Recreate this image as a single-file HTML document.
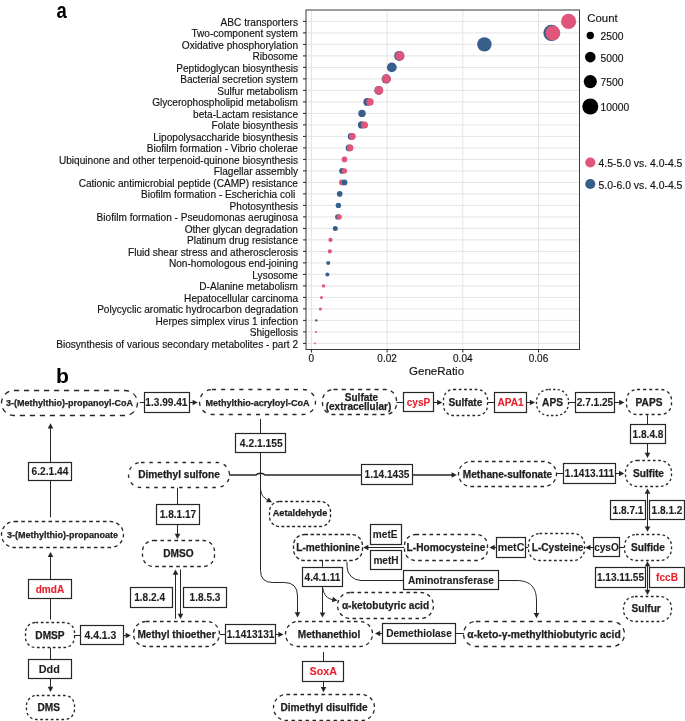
<!DOCTYPE html><html><head><meta charset="utf-8"><style>html,body{margin:0;padding:0;background:#fff;}svg{display:block;will-change:transform;}text{font-family:"Liberation Sans",sans-serif;}text.b{stroke-width:0.25px;}text.e{stroke-width:0.1px;}text.r{stroke-width:0.15px;}</style></head><body>
<svg width="685" height="721" viewBox="0 0 685 721">
<rect width="685" height="721" fill="#fff"/>
<text x="56.6" y="18.1" font-size="22" font-weight="bold" fill="#000" transform="translate(56.6 0) scale(0.84 1) translate(-56.6 0)">a</text>
<line x1="306.0" y1="21.40" x2="579.5" y2="21.40" stroke="#E4E4E4" stroke-width="1"/>
<line x1="306.0" y1="32.90" x2="579.5" y2="32.90" stroke="#E4E4E4" stroke-width="1"/>
<line x1="306.0" y1="44.40" x2="579.5" y2="44.40" stroke="#E4E4E4" stroke-width="1"/>
<line x1="306.0" y1="55.90" x2="579.5" y2="55.90" stroke="#E4E4E4" stroke-width="1"/>
<line x1="306.0" y1="67.40" x2="579.5" y2="67.40" stroke="#E4E4E4" stroke-width="1"/>
<line x1="306.0" y1="78.90" x2="579.5" y2="78.90" stroke="#E4E4E4" stroke-width="1"/>
<line x1="306.0" y1="90.40" x2="579.5" y2="90.40" stroke="#E4E4E4" stroke-width="1"/>
<line x1="306.0" y1="101.90" x2="579.5" y2="101.90" stroke="#E4E4E4" stroke-width="1"/>
<line x1="306.0" y1="113.40" x2="579.5" y2="113.40" stroke="#E4E4E4" stroke-width="1"/>
<line x1="306.0" y1="124.90" x2="579.5" y2="124.90" stroke="#E4E4E4" stroke-width="1"/>
<line x1="306.0" y1="136.40" x2="579.5" y2="136.40" stroke="#E4E4E4" stroke-width="1"/>
<line x1="306.0" y1="147.90" x2="579.5" y2="147.90" stroke="#E4E4E4" stroke-width="1"/>
<line x1="306.0" y1="159.40" x2="579.5" y2="159.40" stroke="#E4E4E4" stroke-width="1"/>
<line x1="306.0" y1="170.90" x2="579.5" y2="170.90" stroke="#E4E4E4" stroke-width="1"/>
<line x1="306.0" y1="182.40" x2="579.5" y2="182.40" stroke="#E4E4E4" stroke-width="1"/>
<line x1="306.0" y1="193.90" x2="579.5" y2="193.90" stroke="#E4E4E4" stroke-width="1"/>
<line x1="306.0" y1="205.40" x2="579.5" y2="205.40" stroke="#E4E4E4" stroke-width="1"/>
<line x1="306.0" y1="216.90" x2="579.5" y2="216.90" stroke="#E4E4E4" stroke-width="1"/>
<line x1="306.0" y1="228.40" x2="579.5" y2="228.40" stroke="#E4E4E4" stroke-width="1"/>
<line x1="306.0" y1="239.90" x2="579.5" y2="239.90" stroke="#E4E4E4" stroke-width="1"/>
<line x1="306.0" y1="251.40" x2="579.5" y2="251.40" stroke="#E4E4E4" stroke-width="1"/>
<line x1="306.0" y1="262.90" x2="579.5" y2="262.90" stroke="#E4E4E4" stroke-width="1"/>
<line x1="306.0" y1="274.40" x2="579.5" y2="274.40" stroke="#E4E4E4" stroke-width="1"/>
<line x1="306.0" y1="285.90" x2="579.5" y2="285.90" stroke="#E4E4E4" stroke-width="1"/>
<line x1="306.0" y1="297.40" x2="579.5" y2="297.40" stroke="#E4E4E4" stroke-width="1"/>
<line x1="306.0" y1="308.90" x2="579.5" y2="308.90" stroke="#E4E4E4" stroke-width="1"/>
<line x1="306.0" y1="320.40" x2="579.5" y2="320.40" stroke="#E4E4E4" stroke-width="1"/>
<line x1="306.0" y1="331.90" x2="579.5" y2="331.90" stroke="#E4E4E4" stroke-width="1"/>
<line x1="306.0" y1="343.40" x2="579.5" y2="343.40" stroke="#E4E4E4" stroke-width="1"/>
<line x1="311.40" y1="10.0" x2="311.40" y2="349.5" stroke="#E4E4E4" stroke-width="1"/>
<line x1="387.10" y1="10.0" x2="387.10" y2="349.5" stroke="#E4E4E4" stroke-width="1"/>
<line x1="462.80" y1="10.0" x2="462.80" y2="349.5" stroke="#E4E4E4" stroke-width="1"/>
<line x1="538.50" y1="10.0" x2="538.50" y2="349.5" stroke="#E4E4E4" stroke-width="1"/>
<circle cx="568.6" cy="21.40" r="7.6" fill="#E0567A"/>
<circle cx="551.5" cy="32.90" r="8.1" fill="#365F8C"/>
<circle cx="552.9" cy="32.90" r="7.4" fill="#E0567A"/>
<circle cx="484.4" cy="44.40" r="7.2" fill="#365F8C"/>
<circle cx="399.2" cy="55.90" r="5.0" fill="#365F8C"/>
<circle cx="400.0" cy="55.90" r="4.6" fill="#E0567A"/>
<circle cx="391.8" cy="67.40" r="4.9" fill="#365F8C"/>
<circle cx="386.2" cy="78.90" r="4.6" fill="#365F8C"/>
<circle cx="386.5" cy="78.90" r="4.4" fill="#E0567A"/>
<circle cx="378.7" cy="90.40" r="4.4" fill="#365F8C"/>
<circle cx="378.9" cy="90.40" r="4.3" fill="#E0567A"/>
<circle cx="367.3" cy="101.90" r="3.9" fill="#365F8C"/>
<circle cx="370.0" cy="101.90" r="3.7" fill="#E0567A"/>
<circle cx="362.0" cy="113.40" r="3.7" fill="#365F8C"/>
<circle cx="361.5" cy="124.90" r="3.6" fill="#365F8C"/>
<circle cx="364.5" cy="124.90" r="3.5" fill="#E0567A"/>
<circle cx="351.2" cy="136.40" r="3.4" fill="#365F8C"/>
<circle cx="352.4" cy="136.40" r="3.3" fill="#E0567A"/>
<circle cx="349.1" cy="147.90" r="3.4" fill="#365F8C"/>
<circle cx="350.1" cy="147.90" r="3.3" fill="#E0567A"/>
<circle cx="344.5" cy="159.40" r="2.8" fill="#E0567A"/>
<circle cx="342.0" cy="170.90" r="2.8" fill="#365F8C"/>
<circle cx="344.4" cy="170.90" r="2.7" fill="#E0567A"/>
<circle cx="341.8" cy="182.40" r="2.8" fill="#E0567A"/>
<circle cx="344.5" cy="182.40" r="2.9" fill="#365F8C"/>
<circle cx="339.7" cy="193.90" r="2.8" fill="#365F8C"/>
<circle cx="338.4" cy="205.40" r="2.7" fill="#365F8C"/>
<circle cx="337.7" cy="216.90" r="2.6" fill="#365F8C"/>
<circle cx="339.2" cy="216.90" r="2.6" fill="#E0567A"/>
<circle cx="335.3" cy="228.40" r="2.5" fill="#365F8C"/>
<circle cx="330.5" cy="239.90" r="2.1" fill="#E0567A"/>
<circle cx="329.9" cy="251.40" r="2.1" fill="#E0567A"/>
<circle cx="328.2" cy="262.90" r="2.0" fill="#365F8C"/>
<circle cx="327.4" cy="274.40" r="2.0" fill="#365F8C"/>
<circle cx="323.5" cy="285.90" r="1.7" fill="#E0567A"/>
<circle cx="321.5" cy="297.40" r="1.5" fill="#E0567A"/>
<circle cx="320.4" cy="308.90" r="1.5" fill="#E0567A"/>
<circle cx="316.3" cy="320.40" r="1.2" fill="#365F8C"/>
<circle cx="316.1" cy="331.90" r="1.0" fill="#E0567A"/>
<circle cx="314.9" cy="343.40" r="0.9" fill="#E0567A"/>
<rect x="306.0" y="10.0" width="273.5" height="339.5" fill="none" stroke="#3a3a3a" stroke-width="1"/>
<line x1="303" y1="21.40" x2="306.0" y2="21.40" stroke="#222" stroke-width="1"/>
<text x="298" y="25.50" font-size="10.1" text-anchor="end" fill="#111" stroke="#111" class="r">ABC transporters</text>
<line x1="303" y1="32.90" x2="306.0" y2="32.90" stroke="#222" stroke-width="1"/>
<text x="298" y="37.00" font-size="10.1" text-anchor="end" fill="#111" stroke="#111" class="r">Two-component system</text>
<line x1="303" y1="44.40" x2="306.0" y2="44.40" stroke="#222" stroke-width="1"/>
<text x="298" y="48.50" font-size="10.1" text-anchor="end" fill="#111" stroke="#111" class="r">Oxidative phosphorylation</text>
<line x1="303" y1="55.90" x2="306.0" y2="55.90" stroke="#222" stroke-width="1"/>
<text x="298" y="60.00" font-size="10.1" text-anchor="end" fill="#111" stroke="#111" class="r">Ribosome</text>
<line x1="303" y1="67.40" x2="306.0" y2="67.40" stroke="#222" stroke-width="1"/>
<text x="298" y="71.50" font-size="10.1" text-anchor="end" fill="#111" stroke="#111" class="r">Peptidoglycan biosynthesis</text>
<line x1="303" y1="78.90" x2="306.0" y2="78.90" stroke="#222" stroke-width="1"/>
<text x="298" y="83.00" font-size="10.1" text-anchor="end" fill="#111" stroke="#111" class="r">Bacterial secretion system</text>
<line x1="303" y1="90.40" x2="306.0" y2="90.40" stroke="#222" stroke-width="1"/>
<text x="298" y="94.50" font-size="10.1" text-anchor="end" fill="#111" stroke="#111" class="r">Sulfur metabolism</text>
<line x1="303" y1="101.90" x2="306.0" y2="101.90" stroke="#222" stroke-width="1"/>
<text x="298" y="106.00" font-size="10.1" text-anchor="end" fill="#111" stroke="#111" class="r">Glycerophospholipid metabolism</text>
<line x1="303" y1="113.40" x2="306.0" y2="113.40" stroke="#222" stroke-width="1"/>
<text x="298" y="117.50" font-size="10.1" text-anchor="end" fill="#111" stroke="#111" class="r">beta-Lactam resistance</text>
<line x1="303" y1="124.90" x2="306.0" y2="124.90" stroke="#222" stroke-width="1"/>
<text x="298" y="129.00" font-size="10.1" text-anchor="end" fill="#111" stroke="#111" class="r">Folate biosynthesis</text>
<line x1="303" y1="136.40" x2="306.0" y2="136.40" stroke="#222" stroke-width="1"/>
<text x="298" y="140.50" font-size="10.1" text-anchor="end" fill="#111" stroke="#111" class="r">Lipopolysaccharide biosynthesis</text>
<line x1="303" y1="147.90" x2="306.0" y2="147.90" stroke="#222" stroke-width="1"/>
<text x="298" y="152.00" font-size="10.1" text-anchor="end" fill="#111" stroke="#111" class="r">Biofilm formation - Vibrio cholerae</text>
<line x1="303" y1="159.40" x2="306.0" y2="159.40" stroke="#222" stroke-width="1"/>
<text x="298" y="163.50" font-size="10.1" text-anchor="end" fill="#111" stroke="#111" class="r">Ubiquinone and other terpenoid-quinone biosynthesis</text>
<line x1="303" y1="170.90" x2="306.0" y2="170.90" stroke="#222" stroke-width="1"/>
<text x="298" y="175.00" font-size="10.1" text-anchor="end" fill="#111" stroke="#111" class="r">Flagellar assembly</text>
<line x1="303" y1="182.40" x2="306.0" y2="182.40" stroke="#222" stroke-width="1"/>
<text x="298" y="186.50" font-size="10.1" text-anchor="end" fill="#111" stroke="#111" class="r">Cationic antimicrobial peptide (CAMP) resistance</text>
<line x1="303" y1="193.90" x2="306.0" y2="193.90" stroke="#222" stroke-width="1"/>
<text x="295.2" y="198.00" font-size="10.1" text-anchor="end" fill="#111" stroke="#111" class="r">Biofilm formation - Escherichia coli</text>
<line x1="303" y1="205.40" x2="306.0" y2="205.40" stroke="#222" stroke-width="1"/>
<text x="298" y="209.50" font-size="10.1" text-anchor="end" fill="#111" stroke="#111" class="r">Photosynthesis</text>
<line x1="303" y1="216.90" x2="306.0" y2="216.90" stroke="#222" stroke-width="1"/>
<text x="298" y="221.00" font-size="10.1" text-anchor="end" fill="#111" stroke="#111" class="r">Biofilm formation - Pseudomonas aeruginosa</text>
<line x1="303" y1="228.40" x2="306.0" y2="228.40" stroke="#222" stroke-width="1"/>
<text x="298" y="232.50" font-size="10.1" text-anchor="end" fill="#111" stroke="#111" class="r">Other glycan degradation</text>
<line x1="303" y1="239.90" x2="306.0" y2="239.90" stroke="#222" stroke-width="1"/>
<text x="298" y="244.00" font-size="10.1" text-anchor="end" fill="#111" stroke="#111" class="r">Platinum drug resistance</text>
<line x1="303" y1="251.40" x2="306.0" y2="251.40" stroke="#222" stroke-width="1"/>
<text x="298" y="255.50" font-size="10.1" text-anchor="end" fill="#111" stroke="#111" class="r">Fluid shear stress and atherosclerosis</text>
<line x1="303" y1="262.90" x2="306.0" y2="262.90" stroke="#222" stroke-width="1"/>
<text x="298" y="267.00" font-size="10.1" text-anchor="end" fill="#111" stroke="#111" class="r">Non-homologous end-joining</text>
<line x1="303" y1="274.40" x2="306.0" y2="274.40" stroke="#222" stroke-width="1"/>
<text x="298" y="278.50" font-size="10.1" text-anchor="end" fill="#111" stroke="#111" class="r">Lysosome</text>
<line x1="303" y1="285.90" x2="306.0" y2="285.90" stroke="#222" stroke-width="1"/>
<text x="298" y="290.00" font-size="10.1" text-anchor="end" fill="#111" stroke="#111" class="r">D-Alanine metabolism</text>
<line x1="303" y1="297.40" x2="306.0" y2="297.40" stroke="#222" stroke-width="1"/>
<text x="298" y="301.50" font-size="10.1" text-anchor="end" fill="#111" stroke="#111" class="r">Hepatocellular carcinoma</text>
<line x1="303" y1="308.90" x2="306.0" y2="308.90" stroke="#222" stroke-width="1"/>
<text x="298" y="313.00" font-size="10.1" text-anchor="end" fill="#111" stroke="#111" class="r">Polycyclic aromatic hydrocarbon degradation</text>
<line x1="303" y1="320.40" x2="306.0" y2="320.40" stroke="#222" stroke-width="1"/>
<text x="298" y="324.50" font-size="10.1" text-anchor="end" fill="#111" stroke="#111" class="r">Herpes simplex virus 1 infection</text>
<line x1="303" y1="331.90" x2="306.0" y2="331.90" stroke="#222" stroke-width="1"/>
<text x="298" y="336.00" font-size="10.1" text-anchor="end" fill="#111" stroke="#111" class="r">Shigellosis</text>
<line x1="303" y1="343.40" x2="306.0" y2="343.40" stroke="#222" stroke-width="1"/>
<text x="298" y="347.50" font-size="10.1" text-anchor="end" fill="#111" stroke="#111" class="r">Biosynthesis of various secondary metabolites - part 2</text>
<line x1="311.40" y1="349.5" x2="311.40" y2="352.5" stroke="#222" stroke-width="1"/>
<text x="311.40" y="362" font-size="10" text-anchor="middle" fill="#111" stroke="#111" class="r">0</text>
<line x1="387.10" y1="349.5" x2="387.10" y2="352.5" stroke="#222" stroke-width="1"/>
<text x="387.10" y="362" font-size="10" text-anchor="middle" fill="#111" stroke="#111" class="r">0.02</text>
<line x1="462.80" y1="349.5" x2="462.80" y2="352.5" stroke="#222" stroke-width="1"/>
<text x="462.80" y="362" font-size="10" text-anchor="middle" fill="#111" stroke="#111" class="r">0.04</text>
<line x1="538.50" y1="349.5" x2="538.50" y2="352.5" stroke="#222" stroke-width="1"/>
<text x="538.50" y="362" font-size="10" text-anchor="middle" fill="#111" stroke="#111" class="r">0.06</text>
<text x="436.6" y="374.7" font-size="11.5" text-anchor="middle" fill="#111" stroke="#111" class="r">GeneRatio</text>
<text x="587.3" y="21.6" font-size="11.4" fill="#111" stroke="#111" class="r">Count</text>
<circle cx="590.3" cy="35.5" r="3.7" fill="#000"/>
<text x="600.6" y="39.90" font-size="10.3" fill="#111" stroke="#111" class="r">2500</text>
<circle cx="590.3" cy="57.1" r="5.3" fill="#000"/>
<text x="600.6" y="61.50" font-size="10.3" fill="#111" stroke="#111" class="r">5000</text>
<circle cx="590.3" cy="81.6" r="6.6" fill="#000"/>
<text x="600.6" y="86.00" font-size="10.3" fill="#111" stroke="#111" class="r">7500</text>
<circle cx="590.3" cy="106.5" r="8.0" fill="#000"/>
<text x="600.6" y="110.90" font-size="10.3" fill="#111" stroke="#111" class="r">10000</text>
<circle cx="590.3" cy="162.5" r="5.1" fill="#E0567A"/>
<circle cx="590.3" cy="184" r="5.1" fill="#365F8C"/>
<text x="598.6" y="167.0" font-size="10.4" fill="#111" stroke="#111" class="r">4.5-5.0 vs. 4.0-4.5</text>
<text x="598.6" y="188.6" font-size="10.4" fill="#111" stroke="#111" class="r">5.0-6.0 vs. 4.0-4.5</text>
<text x="56.1" y="382.6" font-size="19.8" font-weight="bold" fill="#000" transform="translate(56.1 0) scale(1.07 1) translate(-56.1 0)">b</text>
<path d="M139.8,402.5 L144.5,402.5" fill="none" stroke="#262626" stroke-width="1.0"/>
<path d="M189.9,402.5 L194.3,402.5" fill="none" stroke="#262626" stroke-width="1.0"/>
<polygon points="197.80,402.50 192.60,399.70 192.60,405.30" fill="#262626"/>
<path d="M396.5,402.5 L403.2,402.5" fill="none" stroke="#262626" stroke-width="1.0"/>
<path d="M433.9,402.5 L438.8,402.5" fill="none" stroke="#262626" stroke-width="1.0"/>
<polygon points="442.30,402.50 437.10,399.70 437.10,405.30" fill="#262626"/>
<path d="M488,402.5 L494.2,402.5" fill="none" stroke="#262626" stroke-width="1.0"/>
<path d="M526.8,402.5 L531.5,402.5" fill="none" stroke="#262626" stroke-width="1.0"/>
<polygon points="535.00,402.50 529.80,399.70 529.80,405.30" fill="#262626"/>
<path d="M568,402.5 L575,402.5" fill="none" stroke="#262626" stroke-width="1.0"/>
<path d="M614.7,402.5 L620.9,402.5" fill="none" stroke="#262626" stroke-width="1.0"/>
<polygon points="624.40,402.50 619.20,399.70 619.20,405.30" fill="#262626"/>
<path d="M647.5,415.2 L647.5,424" fill="none" stroke="#262626" stroke-width="1.0"/>
<path d="M647.5,443.8 L647.5,454.5" fill="none" stroke="#262626" stroke-width="1.0"/>
<polygon points="647.50,458.00 644.70,452.80 650.30,452.80" fill="#262626"/>
<path d="M260.5,419 L260.5,570.4 Q260.5,582.5 272.7,582.5 L284.3,582.5 Q297.5,582.5 297.5,596 L297.5,613" fill="none" stroke="#262626" stroke-width="1.0"/>
<polygon points="297.50,617.50 294.70,612.30 300.30,612.30" fill="#262626"/>
<path d="M260.5,487 C260.5,494 263,497.5 268,500.3" fill="none" stroke="#262626" stroke-width="1.0"/>
<polygon points="272.00,502.30 266.09,502.33 268.72,497.39" fill="#262626"/>
<path d="M229.1,475.0 L256,475.0 C257.8,472.6 263.2,472.6 265,475.0 L361.7,475.0 M412.2,475.0 L453.3,475.0" fill="none" stroke="#262626" stroke-width="1.35"/>
<polygon points="456.80,475.00 451.60,472.20 451.60,477.80" fill="#262626"/>
<path d="M556,473.5 L563.4,473.5" fill="none" stroke="#262626" stroke-width="1.0"/>
<path d="M615,473.5 L620.7,473.5" fill="none" stroke="#262626" stroke-width="1.0"/>
<polygon points="624.20,473.50 619.00,470.70 619.00,476.30" fill="#262626"/>
<path d="M50.5,517.3 L50.5,426.8" fill="none" stroke="#262626" stroke-width="1.0"/>
<polygon points="50.50,423.30 47.70,428.50 53.30,428.50" fill="#262626"/>
<path d="M177.5,487.7 L177.5,504.5" fill="none" stroke="#262626" stroke-width="1.0"/>
<path d="M177.5,524.4 L177.5,535.5" fill="none" stroke="#262626" stroke-width="1.0"/>
<polygon points="177.50,539.00 174.70,533.80 180.30,533.80" fill="#262626"/>
<path d="M175.5,618.7 L175.5,573.1" fill="none" stroke="#262626" stroke-width="1.0"/>
<polygon points="175.50,569.60 172.70,574.80 178.30,574.80" fill="#262626"/>
<path d="M180.5,569.5 L180.5,615.4" fill="none" stroke="#262626" stroke-width="1.0"/>
<polygon points="180.50,618.90 177.70,613.70 183.30,613.70" fill="#262626"/>
<path d="M50.5,619.6 L50.5,555.4" fill="none" stroke="#262626" stroke-width="1.0"/>
<polygon points="50.50,551.90 47.70,557.10 53.30,557.10" fill="#262626"/>
<path d="M50.5,647.8 L50.5,659.1" fill="none" stroke="#262626" stroke-width="1.0"/>
<path d="M50.5,678.5 L50.5,688.5" fill="none" stroke="#262626" stroke-width="1.0"/>
<polygon points="50.50,692.00 47.70,686.80 53.30,686.80" fill="#262626"/>
<path d="M74,635.5 L127.4,635.5" fill="none" stroke="#262626" stroke-width="1.0"/>
<polygon points="130.90,635.50 125.70,632.70 125.70,638.30" fill="#262626"/>
<path d="M219.9,634.5 L280.0,634.5" fill="none" stroke="#262626" stroke-width="1.0"/>
<polygon points="283.50,634.50 278.30,631.70 278.30,637.30" fill="#262626"/>
<path d="M463.9,633.5 L378.5,633.5" fill="none" stroke="#262626" stroke-width="1.0"/>
<polygon points="375.00,633.50 380.20,630.70 380.20,636.30" fill="#262626"/>
<path d="M498.6,580.5 L516,580.5 C531,580.5 536.5,588 536.5,601 L536.5,614.5" fill="none" stroke="#262626" stroke-width="1.0"/>
<polygon points="536.50,618.30 533.70,613.10 539.30,613.10" fill="#262626"/>
<path d="M347,562 L347,566.5 A14,14 0 0 0 361,580.5 L403.9,580.5" fill="none" stroke="#262626" stroke-width="1.0"/>
<path d="M322.5,560 L322.5,566.7" fill="none" stroke="#262626" stroke-width="1.0"/>
<path d="M322.5,586.1 L322.5,614.1" fill="none" stroke="#262626" stroke-width="1.0"/>
<polygon points="322.50,617.60 319.70,612.40 325.30,612.40" fill="#262626"/>
<path d="M323,588.5 C323.5,594.5 327,598.5 333,599.8" fill="none" stroke="#262626" stroke-width="1.0"/>
<polygon points="337.50,600.60 331.83,602.26 333.00,596.78" fill="#262626"/>
<path d="M404.2,547.5 L366.7,547.5" fill="none" stroke="#262626" stroke-width="1.0"/>
<polygon points="363.20,547.50 368.40,544.70 368.40,550.30" fill="#262626"/>
<path d="M525,547.5 L528.2,547.5" fill="none" stroke="#262626" stroke-width="1.0"/>
<path d="M496.1,547.5 L493.0,547.5" fill="none" stroke="#262626" stroke-width="1.0"/>
<polygon points="489.50,547.50 494.70,544.70 494.70,550.30" fill="#262626"/>
<path d="M619.8,547.5 L624,547.5" fill="none" stroke="#262626" stroke-width="1.0"/>
<path d="M593,547.5 L588.8,547.5" fill="none" stroke="#262626" stroke-width="1.0"/>
<polygon points="585.30,547.50 590.50,544.70 590.50,550.30" fill="#262626"/>
<path d="M647.5,492 L647.5,528" fill="none" stroke="#262626" stroke-width="1.0"/>
<polygon points="647.50,488.60 644.70,493.80 650.30,493.80" fill="#262626"/>
<polygon points="647.50,531.80 644.70,526.60 650.30,526.60" fill="#262626"/>
<path d="M647.5,565 L647.5,591" fill="none" stroke="#262626" stroke-width="1.0"/>
<polygon points="647.50,561.20 644.70,566.40 650.30,566.40" fill="#262626"/>
<polygon points="647.50,595.00 644.70,589.80 650.30,589.80" fill="#262626"/>
<path d="M323.5,652 L323.5,661.2" fill="none" stroke="#262626" stroke-width="1.0"/>
<path d="M323.5,681 L323.5,688.8" fill="none" stroke="#262626" stroke-width="1.0"/>
<polygon points="323.50,692.30 320.70,687.10 326.30,687.10" fill="#262626"/>
<rect x="1.5" y="390.5" width="136.00" height="25.00" rx="12.50" ry="12.50" fill="none" stroke="#262626" stroke-width="1.3" stroke-dasharray="5.2 4.8"/>
<text x="69.50" y="406.15" font-size="9" font-weight="bold" text-anchor="middle" fill="#1e1e1e" stroke="#1e1e1e" class="b">3-(Methylthio)-propanoyl-CoA</text>
<rect x="199.5" y="389.5" width="116.00" height="25.00" rx="12.50" ry="12.50" fill="none" stroke="#262626" stroke-width="1.3" stroke-dasharray="4.1 5.0"/>
<text x="257.50" y="405.60" font-size="9.05" font-weight="bold" text-anchor="middle" fill="#1e1e1e" stroke="#1e1e1e" class="b">Methylthio-acryloyl-CoA</text>
<rect x="322.5" y="389.5" width="74.00" height="25.00" rx="11.00" ry="11.00" fill="none" stroke="#262626" stroke-width="1.3" stroke-dasharray="4.1 4.1"/>
<text x="361.50" y="401.00" font-size="10" font-weight="bold" text-anchor="middle" fill="#1e1e1e" stroke="#1e1e1e" class="b">Sulfate</text>
<text x="358.50" y="410.10" font-size="10" font-weight="bold" text-anchor="middle" fill="#1e1e1e" stroke="#1e1e1e" class="b">(extracellular)</text>
<rect x="443.5" y="389.5" width="44.00" height="26.00" rx="10.00" ry="10.00" fill="none" stroke="#262626" stroke-width="1.3" stroke-dasharray="2.7 2.6"/>
<text x="465.50" y="406.05" font-size="10.15" font-weight="bold" text-anchor="middle" fill="#1e1e1e" stroke="#1e1e1e" class="b">Sulfate</text>
<rect x="536.5" y="389.5" width="32.00" height="26.00" rx="12.00" ry="12.00" fill="none" stroke="#262626" stroke-width="1.3" stroke-dasharray="2.3 2.3"/>
<text x="552.50" y="406.05" font-size="10.15" font-weight="bold" text-anchor="middle" fill="#1e1e1e" stroke="#1e1e1e" class="b">APS</text>
<rect x="626.5" y="389.5" width="45.00" height="25.00" rx="10.50" ry="10.50" fill="none" stroke="#262626" stroke-width="1.3" stroke-dasharray="3.1 3.0"/>
<text x="649.00" y="405.55" font-size="10.15" font-weight="bold" text-anchor="middle" fill="#1e1e1e" stroke="#1e1e1e" class="b">PAPS</text>
<rect x="625.5" y="460.5" width="46.00" height="26.00" rx="11.50" ry="11.50" fill="none" stroke="#262626" stroke-width="1.3" stroke-dasharray="2.7 2.6"/>
<text x="648.50" y="477.05" font-size="10.15" font-weight="bold" text-anchor="middle" fill="#1e1e1e" stroke="#1e1e1e" class="b">Sulfite</text>
<rect x="458.5" y="461.5" width="98.00" height="25.00" rx="12.50" ry="12.50" fill="none" stroke="#262626" stroke-width="1.3" stroke-dasharray="3.6 3.4"/>
<text x="507.50" y="477.55" font-size="10.15" font-weight="bold" text-anchor="middle" fill="#1e1e1e" stroke="#1e1e1e" class="b">Methane-sulfonate</text>
<rect x="128.5" y="462.5" width="101.00" height="25.00" rx="12.50" ry="12.50" fill="none" stroke="#262626" stroke-width="1.3" stroke-dasharray="3.5 4.8"/>
<text x="179.00" y="477.60" font-size="10.15" font-weight="bold" text-anchor="middle" fill="#1e1e1e" stroke="#1e1e1e" class="b">Dimethyl sulfone</text>
<rect x="269.5" y="501.5" width="61.00" height="25.00" rx="10.00" ry="10.00" fill="none" stroke="#262626" stroke-width="1.3" stroke-dasharray="3 2.4"/>
<text x="300.00" y="515.60" font-size="9.2" font-weight="bold" text-anchor="middle" fill="#1e1e1e" stroke="#1e1e1e" class="b">Aetaldehyde</text>
<rect x="1.5" y="521.5" width="122.00" height="26.00" rx="13.00" ry="13.00" fill="none" stroke="#262626" stroke-width="1.3" stroke-dasharray="3.6 3.2"/>
<text x="62.50" y="537.65" font-size="9" font-weight="bold" text-anchor="middle" fill="#1e1e1e" stroke="#1e1e1e" class="b">3-(Methylthio)-propanoate</text>
<rect x="142.5" y="540.5" width="72.00" height="26.00" rx="11.00" ry="11.00" fill="none" stroke="#262626" stroke-width="1.3" stroke-dasharray="3.6 3.4"/>
<text x="178.50" y="557.05" font-size="10.15" font-weight="bold" text-anchor="middle" fill="#1e1e1e" stroke="#1e1e1e" class="b">DMSO</text>
<rect x="293.5" y="534.5" width="69.00" height="26.00" rx="11.00" ry="11.00" fill="none" stroke="#262626" stroke-width="1.3" stroke-dasharray="3.6 2.4"/>
<text x="328.00" y="551.05" font-size="10.15" font-weight="bold" text-anchor="middle" fill="#1e1e1e" stroke="#1e1e1e" class="b">L-methionine</text>
<rect x="404.5" y="534.5" width="83.00" height="26.00" rx="11.00" ry="11.00" fill="none" stroke="#262626" stroke-width="1.3" stroke-dasharray="3.6 3.4"/>
<text x="446.00" y="551.05" font-size="10.15" font-weight="bold" text-anchor="middle" fill="#1e1e1e" stroke="#1e1e1e" class="b">L-Homocysteine</text>
<rect x="528.5" y="533.5" width="56.00" height="27.00" rx="11.00" ry="11.00" fill="none" stroke="#262626" stroke-width="1.3" stroke-dasharray="2.7 2.6"/>
<text x="557.60" y="550.55" font-size="10.15" font-weight="bold" text-anchor="middle" fill="#1e1e1e" stroke="#1e1e1e" class="b">L-Cysteine</text>
<rect x="624.5" y="534.5" width="47.00" height="26.00" rx="11.50" ry="11.50" fill="none" stroke="#262626" stroke-width="1.3" stroke-dasharray="2.7 2.6"/>
<text x="648.00" y="551.05" font-size="10.15" font-weight="bold" text-anchor="middle" fill="#1e1e1e" stroke="#1e1e1e" class="b">Sulfide</text>
<rect x="337.5" y="592.5" width="96.00" height="26.00" rx="13.00" ry="13.00" fill="none" stroke="#262626" stroke-width="1.3" stroke-dasharray="3.6 3.4"/>
<text x="385.50" y="609.05" font-size="10.15" font-weight="bold" text-anchor="middle" fill="#1e1e1e" stroke="#1e1e1e" class="b">α-ketobutyric acid</text>
<rect x="623.5" y="596.5" width="48.00" height="25.00" rx="11.50" ry="11.50" fill="none" stroke="#262626" stroke-width="1.3" stroke-dasharray="2.7 2.6"/>
<text x="646.20" y="611.80" font-size="10.15" font-weight="bold" text-anchor="middle" fill="#1e1e1e" stroke="#1e1e1e" class="b">Sulfur</text>
<rect x="25.5" y="622.5" width="49.00" height="25.00" rx="10.00" ry="10.00" fill="none" stroke="#262626" stroke-width="1.3" stroke-dasharray="2.7 2.6"/>
<text x="50.00" y="638.55" font-size="10.15" font-weight="bold" text-anchor="middle" fill="#1e1e1e" stroke="#1e1e1e" class="b">DMSP</text>
<rect x="133.5" y="621.5" width="86.00" height="25.00" rx="12.50" ry="12.50" fill="none" stroke="#262626" stroke-width="1.3" stroke-dasharray="3.6 3.4"/>
<text x="176.50" y="637.55" font-size="10.15" font-weight="bold" text-anchor="middle" fill="#1e1e1e" stroke="#1e1e1e" class="b">Methyl thioether</text>
<rect x="285.5" y="621.5" width="87.00" height="25.00" rx="12.50" ry="12.50" fill="none" stroke="#262626" stroke-width="1.3" stroke-dasharray="3.6 3.4"/>
<text x="329.00" y="637.55" font-size="10.15" font-weight="bold" text-anchor="middle" fill="#1e1e1e" stroke="#1e1e1e" class="b">Methanethiol</text>
<rect x="463.5" y="621.5" width="161.00" height="25.00" rx="12.50" ry="12.50" fill="none" stroke="#262626" stroke-width="1.3" stroke-dasharray="4.4 4.4"/>
<text x="544.00" y="637.61" font-size="10.3" font-weight="bold" text-anchor="middle" fill="#1e1e1e" stroke="#1e1e1e" class="b">α-keto-γ-methylthiobutyric acid</text>
<rect x="26.5" y="695.5" width="48.00" height="24.00" rx="10.00" ry="10.00" fill="none" stroke="#262626" stroke-width="1.3" stroke-dasharray="2.7 2.6"/>
<text x="48.80" y="711.05" font-size="10.15" font-weight="bold" text-anchor="middle" fill="#1e1e1e" stroke="#1e1e1e" class="b">DMS</text>
<rect x="273.5" y="694.5" width="101.00" height="26.00" rx="13.00" ry="13.00" fill="none" stroke="#262626" stroke-width="1.3" stroke-dasharray="3.6 3.4"/>
<text x="324.00" y="711.05" font-size="10.15" font-weight="bold" text-anchor="middle" fill="#1e1e1e" stroke="#1e1e1e" class="b">Dimethyl disulfide</text>
<rect x="144.5" y="392.5" width="45.00" height="20.00" fill="#fff" stroke="#262626" stroke-width="1.2"/>
<text x="166.40" y="406.04" font-size="10.1" font-weight="bold" text-anchor="middle" fill="#1e1e1e" stroke="#1e1e1e" class="e">1.3.99.41</text>
<rect x="403.5" y="392.5" width="30.00" height="19.00" fill="#fff" stroke="#262626" stroke-width="1.2"/>
<text x="418.50" y="405.54" font-size="10.1" font-weight="bold" text-anchor="middle" fill="#E8202D" stroke="#E8202D" class="e">cysP</text>
<rect x="494.5" y="392.5" width="32.00" height="20.00" fill="#fff" stroke="#262626" stroke-width="1.2"/>
<text x="510.50" y="406.04" font-size="10.1" font-weight="bold" text-anchor="middle" fill="#E8202D" stroke="#E8202D" class="e">APA1</text>
<rect x="575.5" y="392.5" width="39.00" height="20.00" fill="#fff" stroke="#262626" stroke-width="1.2"/>
<text x="595.00" y="406.04" font-size="10.1" font-weight="bold" text-anchor="middle" fill="#1e1e1e" stroke="#1e1e1e" class="e">2.7.1.25</text>
<rect x="630.5" y="424.5" width="35.00" height="19.00" fill="#fff" stroke="#262626" stroke-width="1.2"/>
<text x="648.00" y="437.54" font-size="10.1" font-weight="bold" text-anchor="middle" fill="#1e1e1e" stroke="#1e1e1e" class="e">1.8.4.8</text>
<rect x="235.5" y="433.5" width="50.00" height="19.00" fill="#fff" stroke="#262626" stroke-width="1.2"/>
<text x="261.30" y="446.61" font-size="10.3" font-weight="bold" text-anchor="middle" fill="#1e1e1e" stroke="#1e1e1e" class="e">4.2.1.155</text>
<rect x="28.5" y="462.5" width="43.00" height="18.00" fill="#fff" stroke="#262626" stroke-width="1.2"/>
<text x="50.00" y="475.07" font-size="10.2" font-weight="bold" text-anchor="middle" fill="#1e1e1e" stroke="#1e1e1e" class="e">6.2.1.44</text>
<rect x="361.5" y="464.5" width="51.00" height="20.00" fill="#fff" stroke="#262626" stroke-width="1.2"/>
<text x="387.00" y="478.04" font-size="10.1" font-weight="bold" text-anchor="middle" fill="#1e1e1e" stroke="#1e1e1e" class="e">1.14.1435</text>
<rect x="563.5" y="463.5" width="52.00" height="20.00" fill="#fff" stroke="#262626" stroke-width="1.2"/>
<text x="589.50" y="477.04" font-size="10.1" font-weight="bold" text-anchor="middle" fill="#1e1e1e" stroke="#1e1e1e" class="e">1.1413.111</text>
<rect x="610.5" y="500.5" width="35.00" height="19.00" fill="#fff" stroke="#262626" stroke-width="1.2"/>
<text x="628.00" y="513.53" font-size="10.1" font-weight="bold" text-anchor="middle" fill="#1e1e1e" stroke="#1e1e1e" class="e">1.8.7.1</text>
<rect x="649.5" y="500.5" width="35.00" height="19.00" fill="#fff" stroke="#262626" stroke-width="1.2"/>
<text x="667.00" y="513.53" font-size="10.1" font-weight="bold" text-anchor="middle" fill="#1e1e1e" stroke="#1e1e1e" class="e">1.8.1.2</text>
<rect x="156.5" y="504.5" width="43.00" height="20.00" fill="#fff" stroke="#262626" stroke-width="1.2"/>
<text x="178.00" y="518.03" font-size="10.1" font-weight="bold" text-anchor="middle" fill="#1e1e1e" stroke="#1e1e1e" class="e">1.8.1.17</text>
<rect x="370.5" y="524.5" width="31.00" height="20.00" fill="#fff" stroke="#262626" stroke-width="1.2"/>
<text x="385.20" y="538.03" font-size="10.1" font-weight="bold" text-anchor="middle" fill="#1e1e1e" stroke="#1e1e1e" class="e">metE</text>
<rect x="370.5" y="550.5" width="31.00" height="19.00" fill="#fff" stroke="#262626" stroke-width="1.2"/>
<text x="386.00" y="563.53" font-size="10.1" font-weight="bold" text-anchor="middle" fill="#1e1e1e" stroke="#1e1e1e" class="e">metH</text>
<rect x="496.5" y="537.5" width="29.00" height="20.00" fill="#fff" stroke="#262626" stroke-width="1.2"/>
<text x="511.00" y="551.25" font-size="10.7" font-weight="bold" text-anchor="middle" fill="#1e1e1e" stroke="#1e1e1e" class="e">metC</text>
<rect x="593.5" y="537.5" width="26.00" height="19.00" fill="#fff" stroke="#262626" stroke-width="1.2"/>
<text x="606.50" y="550.53" font-size="10.1" font-weight="bold" text-anchor="middle" fill="#1e1e1e" stroke="#1e1e1e" class="e">cysO</text>
<rect x="302.5" y="567.5" width="40.00" height="19.00" fill="#fff" stroke="#262626" stroke-width="1.2"/>
<text x="322.50" y="580.53" font-size="10.1" font-weight="bold" text-anchor="middle" fill="#1e1e1e" stroke="#1e1e1e" class="e">4.4.1.11</text>
<rect x="403.5" y="570.5" width="95.00" height="19.00" fill="#fff" stroke="#262626" stroke-width="1.2"/>
<text x="451.00" y="583.53" font-size="10.1" font-weight="bold" text-anchor="middle" fill="#1e1e1e" stroke="#1e1e1e" class="e">Aminotransferase</text>
<rect x="595.5" y="567.5" width="50.00" height="20.00" fill="#fff" stroke="#262626" stroke-width="1.2"/>
<text x="620.50" y="581.03" font-size="10.1" font-weight="bold" text-anchor="middle" fill="#1e1e1e" stroke="#1e1e1e" class="e">1.13.11.55</text>
<rect x="649.5" y="567.5" width="35.00" height="20.00" fill="#fff" stroke="#262626" stroke-width="1.2"/>
<text x="667.00" y="581.03" font-size="10.1" font-weight="bold" text-anchor="middle" fill="#E8202D" stroke="#E8202D" class="e">fccB</text>
<rect x="28.5" y="579.5" width="43.00" height="19.00" fill="#fff" stroke="#262626" stroke-width="1.2"/>
<text x="50.00" y="592.53" font-size="10.1" font-weight="bold" text-anchor="middle" fill="#E8202D" stroke="#E8202D" class="e">dmdA</text>
<rect x="130.5" y="587.5" width="42.00" height="20.00" fill="#fff" stroke="#262626" stroke-width="1.2"/>
<text x="149.60" y="601.03" font-size="10.1" font-weight="bold" text-anchor="middle" fill="#1e1e1e" stroke="#1e1e1e" class="e">1.8.2.4</text>
<rect x="183.5" y="587.5" width="43.00" height="20.00" fill="#fff" stroke="#262626" stroke-width="1.2"/>
<text x="205.00" y="601.03" font-size="10.1" font-weight="bold" text-anchor="middle" fill="#1e1e1e" stroke="#1e1e1e" class="e">1.8.5.3</text>
<rect x="80.5" y="625.5" width="43.00" height="19.00" fill="#fff" stroke="#262626" stroke-width="1.2"/>
<text x="100.40" y="638.64" font-size="10.4" font-weight="bold" text-anchor="middle" fill="#1e1e1e" stroke="#1e1e1e" class="e">4.4.1.3</text>
<rect x="225.5" y="624.5" width="50.00" height="19.00" fill="#fff" stroke="#262626" stroke-width="1.2"/>
<text x="250.50" y="637.53" font-size="10.1" font-weight="bold" text-anchor="middle" fill="#1e1e1e" stroke="#1e1e1e" class="e">1.1413131</text>
<rect x="382.5" y="623.5" width="73.00" height="20.00" fill="#fff" stroke="#262626" stroke-width="1.2"/>
<text x="419.00" y="637.03" font-size="10.1" font-weight="bold" text-anchor="middle" fill="#1e1e1e" stroke="#1e1e1e" class="e">Demethiolase</text>
<rect x="302.5" y="661.5" width="41.00" height="20.00" fill="#fff" stroke="#262626" stroke-width="1.2"/>
<text x="323.20" y="675.25" font-size="10.7" font-weight="bold" text-anchor="middle" fill="#E8202D" stroke="#E8202D" class="e">SoxA</text>
<rect x="28.5" y="659.5" width="43.00" height="19.00" fill="#fff" stroke="#262626" stroke-width="1.2"/>
<text x="49.30" y="672.78" font-size="10.8" font-weight="bold" text-anchor="middle" fill="#1e1e1e" stroke="#1e1e1e" class="e">Ddd</text>
</svg></body></html>
